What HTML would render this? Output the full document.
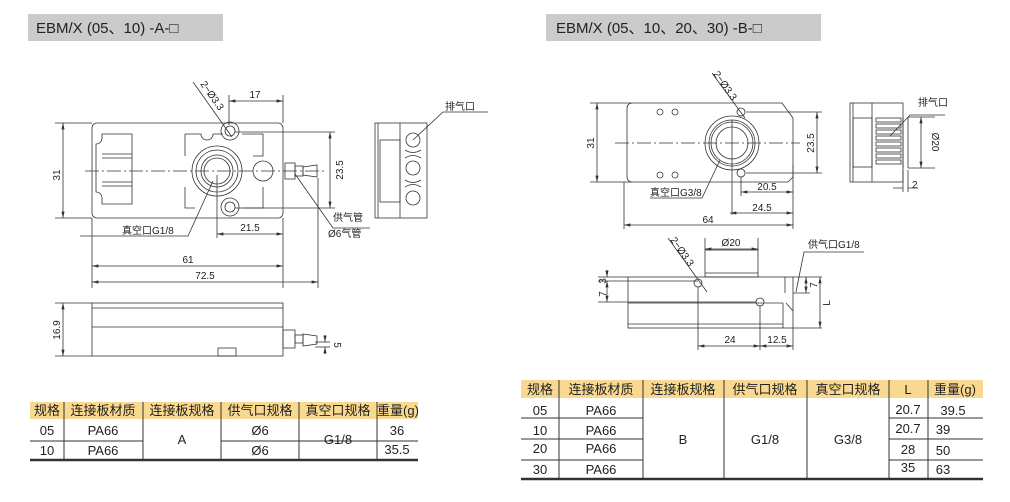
<!DOCTYPE html>
<html><head><meta charset="utf-8"><style>
body{margin:0;background:#fff;width:1010px;height:502px;overflow:hidden;font-family:"Liberation Sans","Noto Sans CJK SC",sans-serif}
svg{position:absolute;left:0;top:0}
</style></head><body>
<svg width="1010" height="502" viewBox="0 0 1010 502" font-family="Liberation Sans, Noto Sans CJK SC, sans-serif">
<defs><marker id="a" viewBox="0 0 8 4" refX="8" refY="2" markerWidth="8" markerHeight="4" orient="auto-start-reverse"><path d="M0,0L8,2L0,4z" fill="#333"/></marker></defs>
<!-- titles -->
<rect x="28" y="14" width="195" height="27" fill="#cbcbcb"/>
<text x="36" y="33" font-size="15" fill="#222">EBM/X (05、10) -A-□</text>
<rect x="546" y="14" width="275" height="27" fill="#cbcbcb"/>
<text x="556" y="33" font-size="15" fill="#222">EBM/X (05、10、20、30) -B-□</text>

<g stroke="#333" stroke-width="0.8" fill="none">
<!-- LEFT top view -->
<rect x="92" y="123" width="191" height="95" rx="5"/>
<path d="M102,134h30v70h-30v-6a6,6 0 0 0 -6,-6v-48a6,6 0 0 0 6,-6z"/>
<line x1="102" y1="154" x2="132" y2="154"/><line x1="102" y1="158" x2="132" y2="158"/>
<line x1="102" y1="182" x2="132" y2="182"/><line x1="102" y1="186" x2="132" y2="186"/>
<path d="M185,134h16a6,6 0 0 0 12,0h10M242,134h21v22h-10M185,134v22M185,187v21h10M242,208h21v-21"/>
<circle cx="217" cy="171" r="25"/><circle cx="217" cy="171" r="21"/><circle cx="217" cy="171" r="16"/><circle cx="217" cy="171" r="13"/>
<circle cx="230" cy="131" r="5"/><circle cx="230" cy="131" r="9"/>
<circle cx="230" cy="207" r="5"/><circle cx="230" cy="207" r="9"/>
<circle cx="263" cy="171" r="10"/>
<rect x="285" y="163" width="10" height="16"/><rect x="295" y="166" width="8" height="10"/><path d="M303,167l14,-2v12l-14,-2z"/>
<line x1="85" y1="171" x2="325" y2="171" stroke-dasharray="14,3,2,3"/>
<!-- dims -->
<line x1="55" y1="123" x2="92" y2="123"/><line x1="55" y1="218" x2="92" y2="218"/>
<line x1="63" y1="123" x2="63" y2="218" marker-start="url(#a)" marker-end="url(#a)"/>
<line x1="229" y1="95" x2="229" y2="125"/><line x1="283" y1="95" x2="283" y2="123"/>
<line x1="229" y1="101" x2="283" y2="101" marker-start="url(#a)" marker-end="url(#a)"/>
<line x1="235" y1="132" x2="335" y2="132"/><line x1="235" y1="208" x2="335" y2="208"/>
<line x1="330" y1="132" x2="330" y2="208" marker-start="url(#a)" marker-end="url(#a)"/>
<line x1="217" y1="175" x2="217" y2="238"/><line x1="283" y1="218" x2="283" y2="288"/>
<line x1="217" y1="234" x2="283" y2="234" marker-start="url(#a)" marker-end="url(#a)"/>
<line x1="92" y1="218" x2="92" y2="288"/><line x1="318" y1="178" x2="318" y2="288"/>
<line x1="92" y1="266" x2="283" y2="266" marker-start="url(#a)" marker-end="url(#a)"/>
<line x1="92" y1="282" x2="318" y2="282" marker-start="url(#a)" marker-end="url(#a)"/>
<line x1="193" y1="82" x2="232" y2="137"/>
<path d="M80,236h108l25,-55"/>
<path d="M295,174l38,54h37"/>
<!-- LEFT end view -->
<rect x="375" y="123" width="52" height="95"/>
<line x1="378" y1="123" x2="378" y2="218"/><line x1="400" y1="123" x2="400" y2="218"/>
<rect x="380" y="140" width="20" height="62"/>
<circle cx="413" cy="140" r="7"/><circle cx="413" cy="168" r="7"/><circle cx="413" cy="198" r="7"/>
<path d="M405,150q8,5 16,0M405,158q8,-5 16,0M405,180q8,5 16,0M405,187q8,-5 16,0"/>
<path d="M413,140l30,-28h45"/>
<!-- LEFT side view -->
<rect x="92" y="303" width="191" height="53"/>
<line x1="92" y1="308" x2="283" y2="308"/><line x1="92" y1="327" x2="283" y2="327"/>
<rect x="218" y="348" width="18" height="8"/>
<rect x="283" y="330" width="12" height="18"/><rect x="295" y="335" width="8" height="8"/><path d="M303,334l14,2v8l-14,2z"/>
<line x1="55" y1="303" x2="92" y2="303"/><line x1="55" y1="356" x2="92" y2="356"/>
<line x1="63" y1="303" x2="63" y2="356" marker-start="url(#a)" marker-end="url(#a)"/>
<line x1="315" y1="342" x2="330" y2="342"/><line x1="315" y1="347" x2="330" y2="347"/>
<line x1="325" y1="335" x2="325" y2="342" marker-end="url(#a)"/><line x1="325" y1="354" x2="325" y2="347" marker-end="url(#a)"/>

<!-- RIGHT top view -->
<path d="M632,103h150l11,15v59l-5,5h-156a5,5 0 0 1 -5,-5v-69a5,5 0 0 1 5,-5z"/>
<circle cx="660" cy="112" r="3"/><circle cx="675" cy="112" r="3"/><circle cx="660" cy="175" r="3"/><circle cx="675" cy="175" r="3"/>
<circle cx="732" cy="143" r="27"/><circle cx="732" cy="143" r="23"/><circle cx="732" cy="143" r="21"/><circle cx="732" cy="143" r="16"/>
<circle cx="741" cy="112" r="4"/><circle cx="741" cy="173" r="4"/>
<line x1="615" y1="143" x2="800" y2="143" stroke-dasharray="14,3,2,3"/>
<line x1="732" y1="120" x2="732" y2="215"/>
<line x1="590" y1="103" x2="632" y2="103"/><line x1="590" y1="182" x2="632" y2="182"/>
<line x1="597" y1="103" x2="597" y2="182" marker-start="url(#a)" marker-end="url(#a)"/>
<line x1="746" y1="112" x2="822" y2="112"/><line x1="746" y1="173" x2="822" y2="173"/>
<line x1="817" y1="112" x2="817" y2="173" marker-start="url(#a)" marker-end="url(#a)"/>
<line x1="741" y1="177" x2="741" y2="196"/><line x1="793" y1="165" x2="793" y2="229"/>
<line x1="741" y1="192" x2="793" y2="192" marker-start="url(#a)" marker-end="url(#a)"/>
<line x1="730" y1="213" x2="793" y2="213" marker-start="url(#a)" marker-end="url(#a)"/>
<line x1="624" y1="182" x2="624" y2="229"/>
<line x1="624" y1="225" x2="793" y2="225" marker-start="url(#a)" marker-end="url(#a)"/>
<line x1="712" y1="73" x2="745" y2="118"/>
<path d="M650,198h52l18,-38"/>
<!-- RIGHT end view -->
<rect x="850" y="103" width="53" height="79"/>
<line x1="853" y1="103" x2="853" y2="182"/><line x1="872" y1="103" x2="872" y2="182"/>
<rect x="853" y="118" width="19" height="49"/>
<line x1="903" y1="117" x2="903" y2="168"/><line x1="908" y1="117" x2="908" y2="168"/>
<g><rect x="876" y="118" width="25" height="4"/><rect x="876" y="124" width="25" height="4"/><rect x="876" y="130" width="25" height="4"/><rect x="876" y="136" width="25" height="4"/><rect x="876" y="142" width="25" height="4"/><rect x="876" y="148" width="25" height="4"/><rect x="876" y="154" width="25" height="4"/><rect x="876" y="160" width="25" height="4"/></g>
<line x1="908" y1="117" x2="935" y2="117"/><line x1="908" y1="168" x2="935" y2="168"/>
<line x1="921" y1="117" x2="921" y2="168" marker-start="url(#a)" marker-end="url(#a)"/>
<line x1="903" y1="170" x2="903" y2="192"/><line x1="908" y1="170" x2="908" y2="192"/>
<path d="M893,188h10M918,188h-10"/>
<path d="M890,136l20,-21h35"/>
<!-- RIGHT side view -->
<rect x="705" y="250" width="53" height="27"/>
<line x1="705" y1="273" x2="758" y2="273"/>
<rect x="628" y="277" width="165" height="51"/>
<line x1="628" y1="303" x2="783" y2="303"/><line x1="628" y1="324" x2="783" y2="324"/>
<path d="M783,303v25M786,303l7,8"/>
<line x1="785" y1="277" x2="785" y2="293"/>
<circle cx="698" cy="283" r="4"/><circle cx="760" cy="302" r="4"/>
<line x1="598" y1="277" x2="628" y2="277"/><line x1="598" y1="281" x2="698" y2="281"/><line x1="598" y1="302" x2="756" y2="302"/>
<line x1="607" y1="270" x2="607" y2="277" marker-end="url(#a)"/><line x1="607" y1="281" x2="607" y2="302" marker-start="url(#a)" marker-end="url(#a)"/>
<line x1="705" y1="250" x2="705" y2="238"/><line x1="758" y1="250" x2="758" y2="238"/>
<line x1="705" y1="249" x2="758" y2="249" marker-start="url(#a)" marker-end="url(#a)"/>
<line x1="698" y1="287" x2="698" y2="350"/><line x1="760" y1="306" x2="760" y2="350"/><line x1="793" y1="328" x2="793" y2="350"/>
<line x1="698" y1="346" x2="760" y2="346" marker-start="url(#a)" marker-end="url(#a)"/>
<line x1="760" y1="346" x2="793" y2="346" marker-start="url(#a)" marker-end="url(#a)"/>
<line x1="793" y1="277" x2="822" y2="277"/><line x1="793" y1="328" x2="822" y2="328"/><line x1="793" y1="293" x2="810" y2="293"/>
<line x1="806" y1="277" x2="806" y2="293" marker-start="url(#a)" marker-end="url(#a)"/>
<line x1="820" y1="277" x2="820" y2="328" marker-start="url(#a)" marker-end="url(#a)"/>
<line x1="668" y1="238" x2="707" y2="292"/>
<path d="M796,292l8,-40h60"/>
</g>

<g font-size="10" fill="#222">
<text x="60" y="175" transform="rotate(-90 60 175)" text-anchor="middle">31</text>
<text x="255" y="98" text-anchor="middle">17</text>
<text x="343" y="170" transform="rotate(-90 343 170)" text-anchor="middle">23.5</text>
<text x="250" y="231" text-anchor="middle">21.5</text>
<text x="188" y="263" text-anchor="middle">61</text>
<text x="205" y="279" text-anchor="middle">72.5</text>
<text x="200" y="84" transform="rotate(55 200 84)">2−Ø3.3</text>
<text x="122" y="234">真空口G1/8</text>
<text x="333" y="221">供气管</text>
<text x="328" y="237">Ø6气管</text>
<text x="445" y="110">排气口</text>
<text x="60" y="330" transform="rotate(-90 60 330)" text-anchor="middle">16.9</text>
<text x="334" y="345" transform="rotate(90 334 345)" text-anchor="middle">5</text>
<text x="594" y="143" transform="rotate(-90 594 143)" text-anchor="middle">31</text>
<text x="814" y="143" transform="rotate(-90 814 143)" text-anchor="middle">23.5</text>
<text x="767" y="190" text-anchor="middle">20.5</text>
<text x="762" y="211" text-anchor="middle">24.5</text>
<text x="708" y="223" text-anchor="middle">64</text>
<text x="713" y="74" transform="rotate(55 713 74)">2−Ø3.3</text>
<text x="650" y="196">真空口G3/8</text>
<text x="918" y="106">排气口</text>
<text x="932" y="142" transform="rotate(90 932 142)" text-anchor="middle">Ø20</text>
<text x="912" y="188">2</text>
<text x="731" y="246" text-anchor="middle">Ø20</text>
<text x="670" y="240" transform="rotate(55 670 240)">2−Ø3.3</text>
<text x="808" y="248">供气口G1/8</text>
<text x="606" y="281" transform="rotate(-90 606 281)" text-anchor="middle">3</text>
<text x="606" y="294" transform="rotate(-90 606 294)" text-anchor="middle">7</text>
<text x="817" y="285" transform="rotate(-90 817 285)" text-anchor="middle">7</text>
<text x="830" y="303" transform="rotate(-90 830 303)" text-anchor="middle">L</text>
<text x="730" y="343" text-anchor="middle">24</text>
<text x="777" y="343" text-anchor="middle">12.5</text>
</g>

<!-- LEFT table -->
<rect x="30" y="402" width="388" height="17" fill="#f9d88f"/>
<g stroke="#333" stroke-width="1">
<line x1="30" y1="441" x2="143" y2="441"/><line x1="299" y1="441" x2="377" y2="441"/><line x1="221" y1="441" x2="299" y2="441"/><line x1="377" y1="441" x2="418" y2="441"/>
<line x1="30" y1="460" x2="418" y2="460" stroke-width="2.5"/>
<line x1="64" y1="402" x2="64" y2="460"/><line x1="143" y1="402" x2="143" y2="460"/><line x1="221" y1="402" x2="221" y2="460"/><line x1="299" y1="402" x2="299" y2="460"/><line x1="377" y1="402" x2="377" y2="460"/>
</g>
<g font-size="13" fill="#222" text-anchor="middle">
<text x="47" y="415">规格</text><text x="103" y="415">连接板材质</text><text x="182" y="415">连接板规格</text><text x="260" y="415">供气口规格</text><text x="338" y="415">真空口规格</text><text x="398" y="415">重量(g)</text>
<text x="47" y="435">05</text><text x="103" y="435">PA66</text><text x="260" y="435">Ø6</text><text x="397" y="435">36</text>
<text x="47" y="455">10</text><text x="103" y="455">PA66</text><text x="260" y="455">Ø6</text><text x="397" y="454">35.5</text>
<text x="182" y="444">A</text><text x="338" y="444">G1/8</text>
</g>

<!-- RIGHT table -->
<rect x="521" y="380" width="462" height="18" fill="#f9d88f"/>
<g stroke="#333" stroke-width="1">
<line x1="521" y1="418" x2="643" y2="418"/><line x1="521" y1="439" x2="643" y2="439"/><line x1="521" y1="460" x2="643" y2="460"/>
<line x1="889" y1="418" x2="983" y2="418"/><line x1="889" y1="439" x2="983" y2="439"/><line x1="889" y1="460" x2="983" y2="460"/>
<line x1="521" y1="479" x2="983" y2="479" stroke-width="2.5"/>
<line x1="559" y1="380" x2="559" y2="479"/><line x1="643" y1="380" x2="643" y2="479"/><line x1="724" y1="380" x2="724" y2="479"/><line x1="807" y1="380" x2="807" y2="479"/><line x1="889" y1="380" x2="889" y2="479"/><line x1="928" y1="380" x2="928" y2="479"/>
</g>
<g font-size="13" fill="#222" text-anchor="middle">
<text x="540" y="394">规格</text><text x="601" y="394">连接板材质</text><text x="683" y="394">连接板规格</text><text x="765" y="394">供气口规格</text><text x="848" y="394">真空口规格</text><text x="908" y="394">L</text><text x="955" y="394">重量(g)</text>
<text x="540" y="415">05</text><text x="601" y="415">PA66</text><text x="908" y="414">20.7</text><text x="953" y="415">39.5</text>
<text x="540" y="435">10</text><text x="601" y="435">PA66</text><text x="908" y="433">20.7</text><text x="943" y="434">39</text>
<text x="540" y="453">20</text><text x="601" y="453">PA66</text><text x="908" y="454">28</text><text x="943" y="455">50</text>
<text x="540" y="474">30</text><text x="601" y="474">PA66</text><text x="908" y="472">35</text><text x="943" y="474">63</text>
<text x="683" y="444">B</text><text x="765" y="444">G1/8</text><text x="848" y="444">G3/8</text>
</g>
</svg>
</body></html>
